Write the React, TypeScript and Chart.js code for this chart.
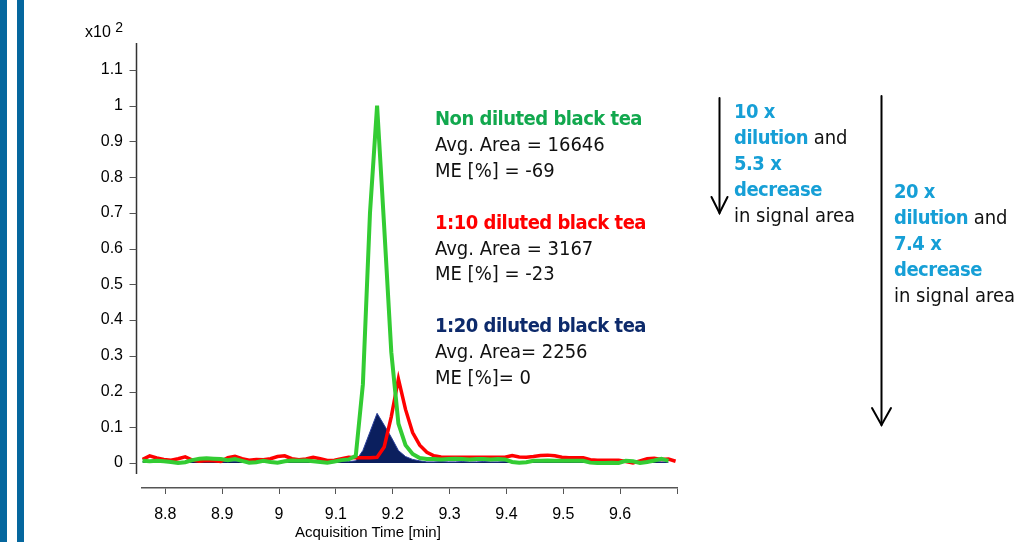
import React, { useEffect, useRef } from "react";
import { Chart, registerables } from "chart.js";

Chart.register(...registerables);

// Acquisition time [min]
const times = [
  8.76, 8.7725, 8.785, 8.7975, 8.81, 8.8225, 8.835, 8.8475, 8.86, 8.8725,
  8.885, 8.8975, 8.91, 8.9225, 8.935, 8.9475, 8.96, 8.9725, 8.985, 8.9975,
  9.01, 9.0225, 9.035, 9.0475, 9.06, 9.0725, 9.085, 9.0975, 9.11, 9.1225,
  9.135, 9.1475, 9.16, 9.1725, 9.185, 9.1975, 9.21, 9.2225, 9.235, 9.2475,
  9.26, 9.2725, 9.285, 9.2975, 9.31, 9.3225, 9.335, 9.3475, 9.36, 9.3725,
  9.385, 9.3975, 9.41, 9.4225, 9.435, 9.4475, 9.46, 9.4725, 9.485, 9.4975,
  9.51, 9.5225, 9.535, 9.5475, 9.56, 9.5725, 9.585, 9.5975, 9.61, 9.6225,
  9.635, 9.6475, 9.66, 9.6725, 9.685, 9.6975,
];

// Non diluted black tea (x10^2 counts)
const nonDiluted = [
  0.006, 0.005, 0.006, 0.005, 0.003, 0.0, 0.002, 0.008, 0.012, 0.013,
  0.012, 0.011, 0.008, 0.011, 0.006, 0.001, 0.002, 0.006, 0.003, 0.001,
  0.005, 0.007, 0.006, 0.007, 0.005, 0.003, 0.001, 0.004, 0.008, 0.01,
  0.02, 0.22, 0.7, 1.0, 0.66, 0.31, 0.11, 0.05, 0.025, 0.014,
  0.011, 0.011, 0.01, 0.011, 0.012, 0.011, 0.01, 0.011, 0.011, 0.01,
  0.011, 0.01, 0.003, 0.001, 0.002, 0.006, 0.006, 0.007, 0.006, 0.006,
  0.006, 0.006, 0.006, 0.001, 0.0, 0.0, 0.001, 0.0, 0.006, 0.005,
  0.0, 0.003, 0.007, 0.012, 0.006, null,
];

// 1:10 diluted black tea
const diluted10 = [
  0.01, 0.02, 0.014, 0.01, 0.008, 0.012, 0.017, 0.008, 0.005, 0.007,
  0.006, 0.004, 0.015, 0.019, 0.012, 0.008, 0.01, 0.009, 0.012, 0.018,
  0.02, 0.012, 0.009, 0.011, 0.016, 0.012, 0.007, 0.008, 0.012, 0.016,
  0.015, 0.015, 0.015, 0.016, 0.045, 0.13, 0.235, 0.15, 0.085, 0.05,
  0.03, 0.02, 0.017, 0.016, 0.016, 0.016, 0.016, 0.016, 0.016, 0.016,
  0.016, 0.016, 0.021, 0.017, 0.016, 0.018, 0.021, 0.022, 0.02, 0.016,
  0.015, 0.015, 0.015, 0.009, 0.008, 0.008, 0.008, 0.008, 0.004, 0.0,
  0.006, 0.012, 0.013, 0.01, 0.011, 0.005,
];

// 1:20 diluted black tea
const diluted20 = [
  0.004, 0.004, 0.003, 0.004, 0.005, 0.004, 0.003, 0.004, 0.005, 0.004,
  0.004, 0.003, 0.004, 0.005, 0.004, 0.006, 0.012, 0.005, 0.004, 0.003,
  0.004, 0.006, 0.012, 0.005, 0.004, 0.004, 0.003, 0.004, 0.005, 0.004,
  0.006, 0.035, 0.087, 0.139, 0.106, 0.072, 0.035, 0.018, 0.01, 0.006,
  0.003, 0.003, 0.004, 0.003, 0.003, 0.004, 0.003, 0.003, 0.004, 0.003,
  0.003, 0.004, 0.003, 0.003, 0.004, 0.003, 0.003, 0.004, 0.003, 0.003,
  0.004, 0.003, 0.003, 0.004, 0.003, 0.003, 0.004, 0.003, 0.003, 0.004,
  0.003, 0.003, 0.004, 0.003, 0.003, null,
];

const xTickValues = [8.8, 8.9, 9.0, 9.1, 9.2, 9.3, 9.4, 9.5, 9.6, 9.7];
const xTickLabels = ["8.8", "8.9", "9", "9.1", "9.2", "9.3", "9.4", "9.5", "9.6", ""];
const yTickValues = [0, 0.1, 0.2, 0.3, 0.4, 0.5, 0.6, 0.7, 0.8, 0.9, 1.0, 1.1];
const yTickLabels = ["0", "0.1", "0.2", "0.3", "0.4", "0.5", "0.6", "0.7", "0.8", "0.9", "1", "1.1"];

const X_MIN = 8.759;
const X_MAX = 9.7;
const Y_MIN = -0.07;
const Y_MAX = 1.1755;
const Y_AXIS_END = -0.031;

const GREEN_LINE = "#33cc33";
const RED_LINE = "#ff0000";
const NAVY = "#0b1f5e";
const GREEN_TEXT = "#12a84e";
const NAVY_TEXT = "#0d2a6b";
const CYAN_TEXT = "#169fd6";
const BAR_BLUE = "#05679e";

const yAxisPlugin = {
  id: "yAxisLine",
  afterDraw(chart: any) {
    const { ctx, chartArea, scales } = chart;
    const y = scales.y;
    const ax = chartArea.left - 5.5;
    ctx.save();
    ctx.strokeStyle = "#333";
    ctx.lineWidth = 1.5;
    ctx.beginPath();
    ctx.moveTo(ax, chartArea.top);
    ctx.lineTo(ax, y.getPixelForValue(Y_AXIS_END));
    ctx.stroke();
    ctx.strokeStyle = "#555";
    ctx.lineWidth = 1;
    ctx.beginPath();
    for (const v of yTickValues) {
      const py = Math.round(y.getPixelForValue(v)) + 0.5;
      ctx.moveTo(ax - 7, py);
      ctx.lineTo(ax, py);
    }
    ctx.stroke();
    ctx.restore();
  },
};

const narrow =
  '"Liberation Sans Narrow", "Arial Narrow", "DejaVu Sans Condensed", "Roboto Condensed", "Liberation Sans", sans-serif';

export default function App() {
  const canvasRef = useRef<HTMLCanvasElement | null>(null);

  useEffect(() => {
    if (!canvasRef.current) return;
    Chart.defaults.font.family = '"Liberation Sans", Arial, sans-serif';
    const mk = (vals: (number | null)[]) => times.map((t, i) => ({ x: t, y: vals[i] }));
    const chart = new Chart(canvasRef.current, {
      type: "line",
      data: {
        datasets: [
          {
            label: "Non diluted black tea",
            data: mk(nonDiluted),
            borderColor: GREEN_LINE,
            borderWidth: 4,
            pointRadius: 0,
            tension: 0,
            fill: false,
          },
          {
            label: "1:10 diluted black tea",
            data: mk(diluted10),
            borderColor: RED_LINE,
            borderWidth: 3.5,
            pointRadius: 0,
            tension: 0,
            fill: false,
          },
          {
            label: "1:20 diluted black tea",
            data: mk(diluted20),
            borderColor: "#2a3f9a",
            backgroundColor: NAVY,
            borderWidth: 1,
            pointRadius: 0,
            tension: 0,
            fill: "origin",
          },
        ],
      } as any,
      options: {
        animation: false,
        responsive: false,
        maintainAspectRatio: false,
        layout: { padding: { left: 0, right: 344, top: 43, bottom: 0 } },
        plugins: { legend: { display: false }, tooltip: { enabled: false } },
        scales: {
          x: {
            type: "linear",
            min: X_MIN,
            max: X_MAX,
            afterBuildTicks: (s: any) => {
              s.ticks = xTickValues.map((v) => ({ value: v }));
            },
            afterFit: (s: any) => {
              s.height = 54;
            },
            ticks: {
              autoSkip: false,
              maxRotation: 0,
              padding: 11,
              color: "#000",
              font: { size: 16 },
              callback: (_v: any, i: number) => xTickLabels[i],
            },
            grid: {
              display: true,
              drawOnChartArea: false,
              drawTicks: true,
              tickLength: 6,
              color: "#555",
              lineWidth: 1,
            },
            border: { display: true, color: "#555", width: 1.5 },
          },
          y: {
            type: "linear",
            min: Y_MIN,
            max: Y_MAX,
            afterBuildTicks: (s: any) => {
              s.ticks = yTickValues.map((v) => ({ value: v }));
            },
            afterFit: (s: any) => {
              s.width = 142;
            },
            ticks: {
              autoSkip: false,
              padding: 11,
              color: "#000",
              font: { size: 16 },
              callback: (_v: any, i: number) => yTickLabels[i],
            },
            grid: {
              display: true,
              drawOnChartArea: false,
              drawTicks: true,
              tickLength: 8,
              color: "transparent",
            },
            border: { display: false },
          },
        },
      } as any,
      plugins: [yAxisPlugin],
    });
    return () => chart.destroy();
  }, []);

  const txt: React.CSSProperties = {
    position: "absolute",
    fontFamily: narrow,
    fontStretch: "condensed",
    fontSize: 20,
    lineHeight: "25.9px",
    color: "#111",
    whiteSpace: "nowrap",
  };
  const b = (c: string) =>
    ({ color: c, fontWeight: 700, letterSpacing: "-0.5px" } as React.CSSProperties);

  return (
    <div
      style={{
        position: "fixed",
        left: 0,
        top: 0,
        width: 1021,
        height: 542,
        background: "#fff",
        overflow: "hidden",
      }}
    >
      <div style={{ position: "absolute", left: 0, top: 0, width: 7, height: 542, background: BAR_BLUE }} />
      <div style={{ position: "absolute", left: 17, top: 0, width: 7, height: 542, background: BAR_BLUE }} />
      <canvas
        ref={canvasRef}
        width={1021}
        height={542}
        style={{ position: "absolute", left: 0, top: 0, width: 1021, height: 542 }}
      />
      <div
        style={{
          position: "absolute",
          left: 85,
          top: 23,
          fontFamily: '"Liberation Sans", Arial, sans-serif',
          fontSize: 16,
          color: "#000",
          whiteSpace: "nowrap",
        }}
      >
        x10 <span style={{ fontSize: 14, position: "relative", top: -5 }}>2</span>
      </div>
      <div
        style={{
          position: "absolute",
          left: 295,
          top: 523,
          fontFamily: '"Liberation Sans", Arial, sans-serif',
          fontSize: 15,
          color: "#000",
          whiteSpace: "nowrap",
        }}
      >
        Acquisition Time [min]
      </div>

      <div style={{ ...txt, left: 435, top: 106 }}>
        <div style={b(GREEN_TEXT)}>Non diluted black tea</div>
        <div>Avg. Area = 16646</div>
        <div>ME [%] = -69</div>
        <div>&nbsp;</div>
        <div style={b(RED_LINE)}>1:10 diluted black tea</div>
        <div>Avg. Area = 3167</div>
        <div>ME [%] = -23</div>
        <div>&nbsp;</div>
        <div style={b(NAVY_TEXT)}>1:20 diluted black tea</div>
        <div>Avg. Area= 2256</div>
        <div>ME [%]= 0</div>
      </div>

      <div style={{ ...txt, left: 734, top: 99 }}>
        <div style={b(CYAN_TEXT)}>10 x</div>
        <div>
          <span style={b(CYAN_TEXT)}>dilution</span> and
        </div>
        <div style={b(CYAN_TEXT)}>5.3 x</div>
        <div style={b(CYAN_TEXT)}>decrease</div>
        <div>in signal area</div>
      </div>

      <div style={{ ...txt, left: 894, top: 179 }}>
        <div style={b(CYAN_TEXT)}>20 x</div>
        <div>
          <span style={b(CYAN_TEXT)}>dilution</span> and
        </div>
        <div style={b(CYAN_TEXT)}>7.4 x</div>
        <div style={b(CYAN_TEXT)}>decrease</div>
        <div>in signal area</div>
      </div>

      <svg
        width={1021}
        height={542}
        style={{ position: "absolute", left: 0, top: 0, pointerEvents: "none" }}
      >
        <g stroke="#000" strokeWidth={2} fill="none" strokeLinecap="round">
          <line x1={719.5} y1={98} x2={719.5} y2={213} />
          <polyline points="711.5,197 719.5,213 727.5,197" />
          <line x1={881.5} y1={96} x2={881.5} y2={425} />
          <polyline points="872,408 881.5,425 891,408" />
        </g>
      </svg>
    </div>
  );
}
